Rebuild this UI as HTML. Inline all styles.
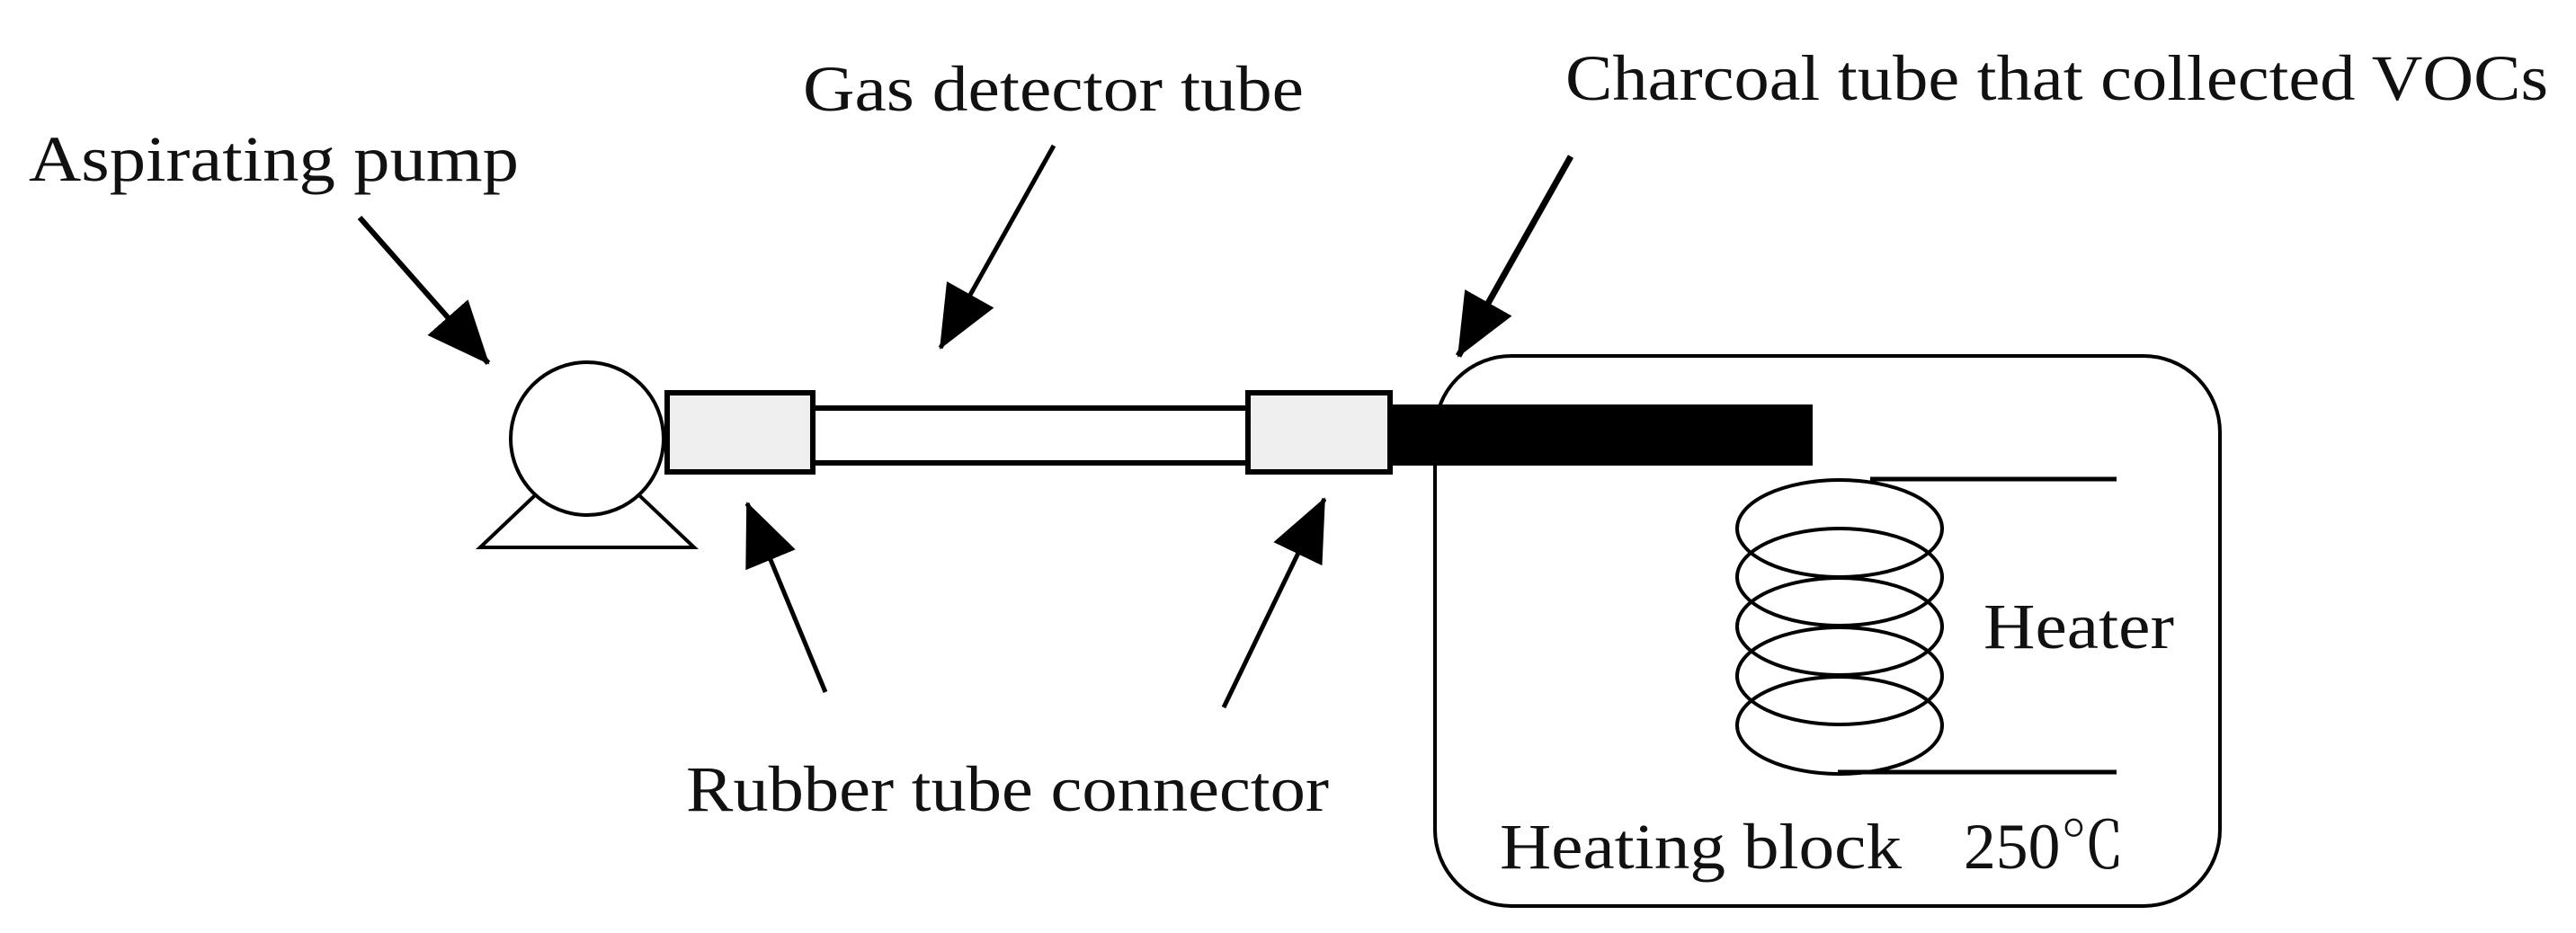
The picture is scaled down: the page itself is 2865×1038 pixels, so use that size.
<!DOCTYPE html>
<html><head><meta charset="utf-8"><style>html,body{margin:0;padding:0;background:#fff}svg{display:block}</style></head>
<body>
<svg width="2865" height="1038" viewBox="0 0 2865 1038" xmlns="http://www.w3.org/2000/svg">
<defs>
<marker id="ah" markerUnits="userSpaceOnUse" markerWidth="80" markerHeight="64" refX="68" refY="30" orient="auto">
<path d="M0,0 L70,30 L0,60 Z" fill="#000"/>
</marker>
</defs>
<g font-family="'Liberation Serif', 'Noto Serif CJK SC', serif" font-size="72" fill="#111">
<text x="32" y="201" textLength="545" lengthAdjust="spacingAndGlyphs">Aspirating pump</text>
<text x="893" y="123" textLength="557" lengthAdjust="spacingAndGlyphs">Gas detector tube</text>
<text x="1741" y="111" textLength="1093" lengthAdjust="spacingAndGlyphs">Charcoal tube that collected VOCs</text>
<text x="763" y="902" textLength="715" lengthAdjust="spacingAndGlyphs">Rubber tube connector</text>
<text x="2206" y="721" textLength="212" lengthAdjust="spacingAndGlyphs">Heater</text>
<text x="1668" y="966" textLength="447" lengthAdjust="spacingAndGlyphs">Heating block</text>
<text x="2184" y="966" textLength="179" lengthAdjust="spacingAndGlyphs">250℃</text>
</g>
<g stroke="#000" fill="none">
<line x1="400" y1="242" x2="543" y2="404" stroke-width="6" marker-end="url(#ah)"/>
<line x1="1172" y1="162" x2="1046" y2="387" stroke-width="5" marker-end="url(#ah)"/>
<line x1="1747" y1="174" x2="1622" y2="396" stroke-width="7" marker-end="url(#ah)"/>
<line x1="918" y1="770" x2="831" y2="560" stroke-width="5" marker-end="url(#ah)"/>
<line x1="1361" y1="787" x2="1473" y2="555" stroke-width="5" marker-end="url(#ah)"/>
<rect x="1596" y="396" width="873" height="612" rx="85" ry="85" stroke-width="4"/>
<polygon points="534,609 772,609 653,496" fill="#fff" stroke-width="4"/>
<circle cx="653" cy="488" r="85" fill="#fff" stroke-width="4"/>
<rect x="904" y="454" width="484" height="61" fill="#fff" stroke-width="6"/>
<rect x="742" y="437" width="162" height="88" fill="#efefef" stroke-width="6"/>
<rect x="1388" y="437" width="158" height="88" fill="#efefef" stroke-width="6"/>
<rect x="1546" y="450" width="470" height="68" fill="#000" stroke="none"/>
<line x1="2080" y1="533" x2="2354" y2="533" stroke-width="5"/>
<line x1="2044" y1="859" x2="2354" y2="859" stroke-width="5"/>
<ellipse cx="2046" cy="588" rx="114" ry="54" stroke-width="4"/>
<ellipse cx="2046" cy="642" rx="114" ry="54" stroke-width="4"/>
<ellipse cx="2046" cy="697" rx="114" ry="54" stroke-width="4"/>
<ellipse cx="2046" cy="752" rx="114" ry="54" stroke-width="4"/>
<ellipse cx="2046" cy="807" rx="114" ry="54" stroke-width="4"/>
</g>
</svg>
</body></html>
